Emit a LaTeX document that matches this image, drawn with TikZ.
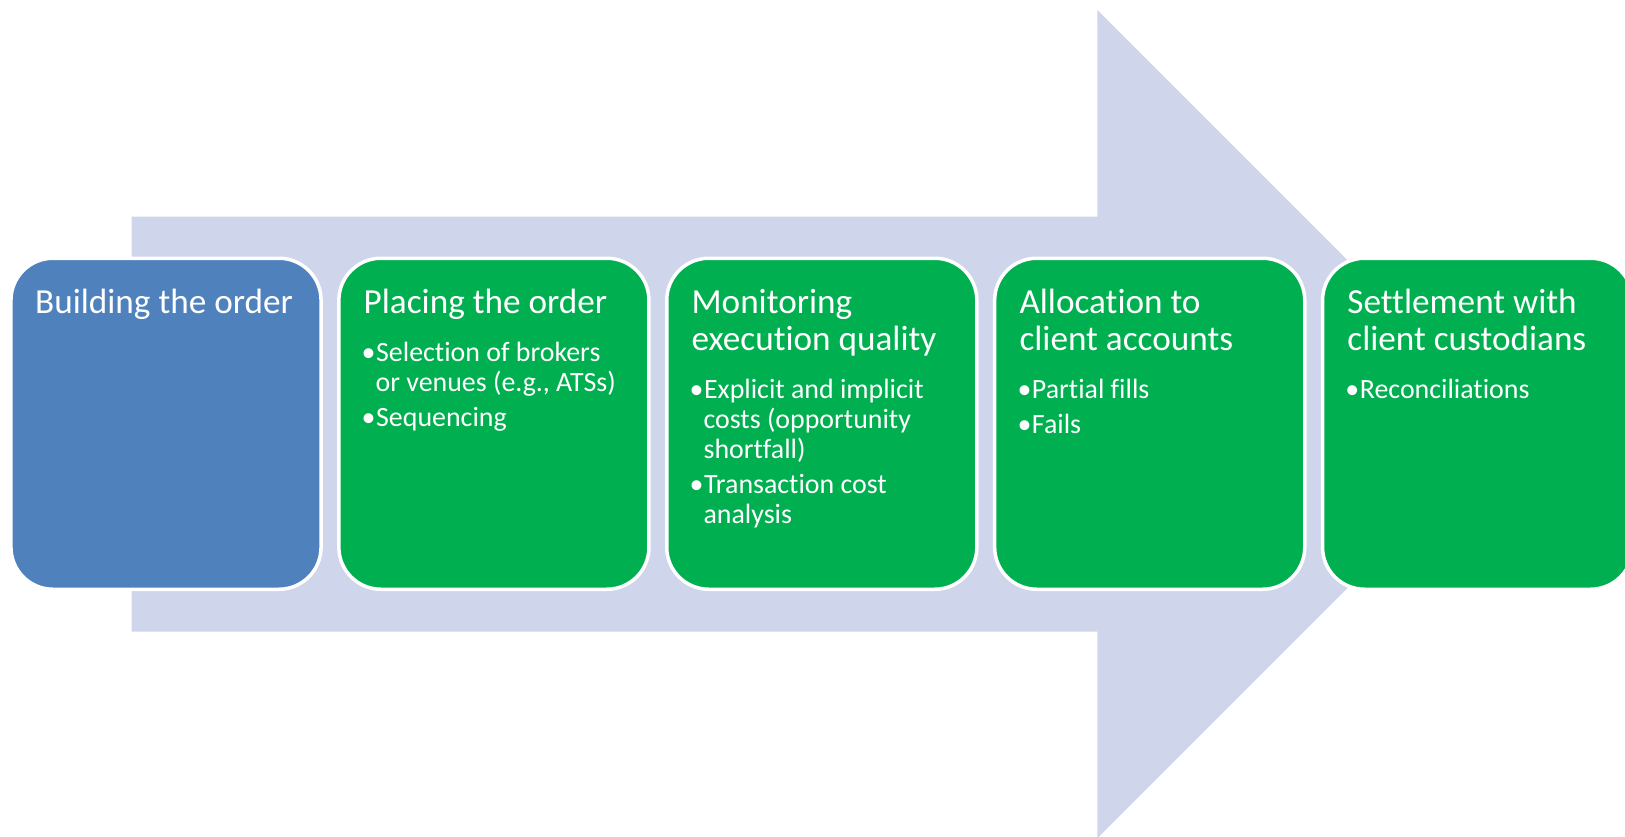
\documentclass[tikz,border=0pt]{standalone}
\usepackage{fontspec}
\setmainfont{Carlito}[Ligatures=NoCommon]
\definecolor{arrowfill}{RGB}{207,213,234}
\definecolor{bluebox}{RGB}{79,129,189}
\definecolor{greenbox}{RGB}{0,176,80}
\newcommand{\ttl}[1]{\parbox[t]{290pt}{\raggedright\fontsize{35.2}{37.7}\selectfont #1}}
\newcommand{\blist}[1]{\parbox[t]{290pt}{\raggedright\fontsize{27.9}{30}\selectfont\parskip=5pt #1}}
\newcommand{\bitem}[1]{\hangindent=12pt\hangafter=1\noindent\makebox[12.5pt][l]{\hspace*{-2pt}•}#1\par}
\begin{document}
\begin{tikzpicture}[x=1pt,y=-1pt,
  stage/.style={rounded corners=42pt, draw=white, line width=3.5pt,
    minimum width=310.1pt, minimum height=331pt, inner sep=0pt},
  ttlnode/.style={anchor=base west, inner sep=0pt, text=white},
  bulnode/.style={anchor=base west, inner sep=0pt, text=white}]
\useasboundingbox (0,0) rectangle (1625,837);
% big background arrow
\fill[arrowfill] (131.7,216.7) -- (1097.3,216.7) -- (1097.3,10) -- (1511.5,424.2)
  -- (1097.3,838.4) -- (1097.3,631.7) -- (131.7,631.7) -- cycle;
% stage boxes
\node[stage, fill=bluebox]  (b1) at (166.0,423.75) {};
\node[stage, fill=greenbox] (b2) at (493.9,423.75) {};
\node[stage, fill=greenbox] (b3) at (821.8,423.75) {};
\node[stage, fill=greenbox] (b4) at (1149.7,423.75) {};
\node[stage, fill=greenbox] (b5) at (1477.6,423.75) {};
% titles
\node[ttlnode] (t1) at (35.0,313) {\ttl{Building the order}};
\node[ttlnode] (t2) at (363.5,313) {\ttl{Placing the order}};
\node[ttlnode] (t3) at (691.4,313) {\ttl{Monitoring\newline execution quality}};
\node[ttlnode] (t4) at (1019.3,313) {\ttl{Allocation to\newline client accounts}};
\node[ttlnode] (t5) at (1347.2,313) {\ttl{Settlement with\newline client custodians}};
% bullets
\node[bulnode] (p2) at (363.5,361) {\blist{\bitem{Selection of brokers\newline or venues (e.g., ATSs)}\bitem{Sequencing}}};
\node[bulnode] (p3) at (691.4,398.5) {\blist{\bitem{Explicit and implicit\newline costs (opportunity\newline shortfall)}\bitem{Transaction cost\newline analysis}}};
\node[bulnode] (p4) at (1019.3,398.5) {\blist{\bitem{Partial fills}\bitem{Fails}}};
\node[bulnode] (p5) at (1347.2,398.5) {\blist{\bitem{Reconciliations}}};
\end{tikzpicture}
\end{document}
